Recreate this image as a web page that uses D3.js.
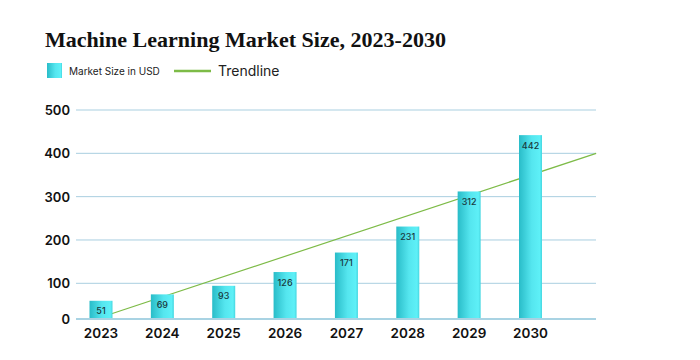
<!DOCTYPE html>
<html><head><meta charset="utf-8">
<script src="https://cdn.jsdelivr.net/npm/d3@7"></script>
<style>
html,body{margin:0;padding:0;background:#fff;}
svg{display:block;}
</style></head>
<body>
<svg id="chart" width="700" height="360"></svg>
<script>
// ---- data ----
const years = ["2023","2024","2025","2026","2027","2028","2029","2030"];
const marketSize = [51, 69, 93, 126, 171, 231, 312, 442];
const yTicks = [0, 100, 200, 300, 400, 500];
const trendIndex = [0, 8.07];   // category position (0 = 2023)
const trendValue = [5, 400];
const titleText = "Machine Learning Market Size, 2023-2030";
const legendLabels = ["Market Size in USD", "Trendline"];

// ---- layout ----
const svg = d3.select("#chart");
const plotLeft = 76, plotRight = 596;
const barW = 23;

const x = d3.scaleLinear().domain([0, years.length - 1]).range([101, 530.5]);
const y = d3.scaleLinear().domain([0, 100, 500]).range([319, 283.3, 110]);

const defs = svg.append("defs");
const grad = defs.append("linearGradient").attr("id", "barGrad")
  .attr("x1", "0%").attr("x2", "100%").attr("y1", "0%").attr("y2", "0%");
grad.append("stop").attr("offset", "0%").attr("stop-color", "#29bcc8");
grad.append("stop").attr("offset", "55%").attr("stop-color", "#55e6ef");
grad.append("stop").attr("offset", "90%").attr("stop-color", "#5ef0f7");
grad.append("stop").attr("offset", "100%").attr("stop-color", "#45d6e0");

// title
svg.append("text").attr("x", 45).attr("y", 47)
  .attr("font-family", "Liberation Serif").attr("font-weight", "bold")
  .attr("font-size", 21).attr("fill", "#111")
  .attr("textLength", 401).attr("lengthAdjust", "spacingAndGlyphs")
  .text(titleText);

// legend
const lg = svg.append("g");
lg.append("rect").attr("x", 47).attr("y", 63).attr("width", 15).attr("height", 15)
  .attr("fill", "url(#barGrad)");
lg.append("text").attr("x", 69).attr("y", 74.5)
  .attr("font-family", "Inter").attr("font-size", 10).attr("fill", "#222")
  .text(legendLabels[0]);
lg.append("line").attr("x1", 174).attr("x2", 211).attr("y1", 71).attr("y2", 71)
  .attr("stroke", "#7dbb47").attr("stroke-width", 2.5);
lg.append("text").attr("x", 218).attr("y", 76)
  .attr("font-family", "Inter").attr("font-size", 14).attr("fill", "#222")
  .text(legendLabels[1]);

// gridlines
svg.append("g").selectAll("line").data(yTicks.filter(d => d > 0)).join("line")
  .attr("x1", plotLeft).attr("x2", plotRight)
  .attr("y1", d => y(d)).attr("y2", d => y(d))
  .attr("stroke", "#a9cfe0").attr("stroke-width", 1);

// y axis labels
svg.append("g").selectAll("text").data(yTicks).join("text")
  .attr("x", 70).attr("y", d => y(d) + 5)
  .attr("text-anchor", "end")
  .attr("font-family", "Inter").attr("font-weight", 600).attr("font-size", 13)
  .attr("fill", "#111")
  .text(d => d);

// trendline (behind bars)
svg.append("path")
  .datum(trendIndex.map((d, i) => [d, trendValue[i]]))
  .attr("d", d3.line().x(d => x(d[0])).y(d => y(d[1])))
  .attr("fill", "none").attr("stroke", "#7dbb47").attr("stroke-width", 1.2);

// bars
svg.append("g").selectAll("rect").data(marketSize).join("rect")
  .attr("x", (d, i) => x(i) - barW / 2)
  .attr("y", d => y(d))
  .attr("width", barW)
  .attr("height", d => y(0) - y(d))
  .attr("fill", "url(#barGrad)");

// baseline
svg.append("line").attr("x1", plotLeft).attr("x2", plotRight)
  .attr("y1", y(0)).attr("y2", y(0))
  .attr("stroke", "#a9d3e3").attr("stroke-width", 2);

// value labels
svg.append("g").selectAll("text").data(marketSize).join("text")
  .attr("x", (d, i) => x(i))
  .attr("y", d => y(d) + 13.5)
  .attr("text-anchor", "middle")
  .attr("font-family", "Inter").attr("font-weight", 500).attr("font-size", 9)
  .attr("fill", "#1a3a40")
  .text(d => d);

// x axis labels
svg.append("g").selectAll("text").data(years).join("text")
  .attr("x", (d, i) => x(i))
  .attr("y", 338)
  .attr("text-anchor", "middle")
  .attr("font-family", "Inter").attr("font-weight", 600).attr("font-size", 13.5)
  .attr("fill", "#111")
  .text(d => d);
</script>
</body></html>
